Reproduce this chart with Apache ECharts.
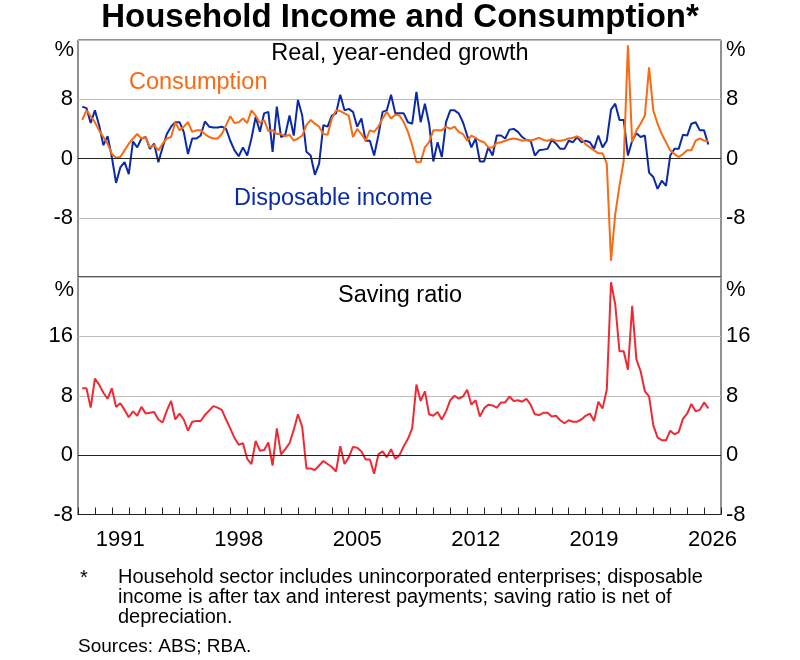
<!DOCTYPE html>
<html><head><meta charset="utf-8">
<script src="https://cdn.jsdelivr.net/npm/echarts@6/dist/echarts.min.js"></script>
<style>html,body{margin:0;padding:0;background:#fff}#c{width:800px;height:660px}</style>
</head><body><div id="c"></div>
<script>
// ---- data ----
const firstQuarter = 1989.25;   // plotted position of first quarterly observation
const quarterStep = 0.25;
const yearCategories = ['1989','1990','1991','1992','1993','1994','1995','1996','1997','1998',
  '1999','2000','2001','2002','2003','2004','2005','2006','2007','2008',
  '2009','2010','2011','2012','2013','2014','2015','2016','2017','2018',
  '2019','2020','2021','2022','2023','2024','2025','2026'];
const labelYears = ['1991','1998','2005','2012','2019','2026'];
const growthTicks = [-16, 16, 8];   // min, max, interval (top panel)
const savingTicks = [-8, 24, 8];    // min, max, interval (bottom panel)

const income = [
  7.0, 6.8, 4.8, 6.5, 4.5, 1.8, 3.0, 0.2, -3.3, -1.2,
  -0.5, -2.1, 2.3, 1.5, 2.7, 2.9, 1.3, 2.0, -0.5, 1.5,
  3.3, 4.3, 4.9, 4.9, 3.6, 0.6, 2.7, 2.7, 3.1, 5.0,
  4.3, 4.2, 4.2, 4.3, 4.0, 2.4, 1.1, 0.3, 1.5, 0.4,
  2.7, 5.6, 3.6, 6.1, 6.3, 0.9, 7.0, 2.9, 3.2, 5.8,
  3.1, 7.9, 5.8, 0.9, 0.4, -2.2, -0.7, 4.5, 4.3, 5.8,
  6.1, 8.6, 6.5, 6.7, 6.3, 4.3, 5.4, 2.4, 2.4, 0.4,
  3.1, 6.3, 6.5, 8.6, 6.1, 6.1, 6.1, 4.9, 4.7, 9.0,
  4.9, 7.4, 4.7, -0.4, 2.2, 0.2, 4.9, 6.5, 6.5, 6.1,
  4.9, 3.1, 1.5, 2.7, -0.4, -0.4, 1.5, 0.4, 3.1, 3.1,
  2.7, 3.9, 4.0, 3.6, 2.9, 2.5, 2.4, 0.4, 1.1, 1.2,
  1.3, 2.5, 2.0, 1.3, 1.3, 2.4, 2.2, 2.9, 2.2, 2.4,
  2.2, 1.3, 3.1, 1.5, 2.4, 6.6, 7.4, 5.2, 5.2, 0.4,
  2.4, 3.4, 2.9, 3.1, -1.9, -2.5, -4.1, -3.0, -3.7, 0.4,
  1.3, 1.3, 3.2, 3.1, 4.7, 4.9, 3.8, 3.8, 1.9
];
const consumption = [
  5.2, 6.5, 5.7, 4.9, 3.8, 2.9, 2.0, 0.6, 0.1, 0.2,
  1.1, 2.0, 2.7, 3.3, 2.7, 2.9, 1.5, 1.8, 1.1, 2.0,
  2.7, 2.9, 4.9, 3.8, 4.3, 4.9, 3.6, 3.8, 3.8, 3.3,
  2.9, 2.7, 2.7, 3.3, 4.5, 5.7, 4.8, 4.9, 5.4, 4.8,
  6.5, 5.8, 4.8, 5.2, 3.7, 3.8, 3.3, 3.3, 3.0, 3.2,
  2.4, 2.7, 3.1, 4.5, 5.2, 4.7, 4.3, 3.3, 3.2, 5.4,
  6.5, 6.4, 6.1, 5.8, 2.9, 4.0, 3.3, 2.4, 3.8, 3.6,
  4.3, 5.4, 6.3, 5.4, 5.9, 5.8, 4.9, 3.6, 1.8, -0.5,
  -0.5, 1.5, 2.2, 3.8, 3.8, 3.8, 4.3, 4.0, 4.3, 3.6,
  3.3, 2.4, 3.1, 2.8, 2.4, 2.2, 1.5, 1.5, 2.1, 2.2,
  2.4, 2.6, 2.7, 2.6, 2.4, 2.5, 2.4, 2.6, 2.8, 2.5,
  2.4, 2.6, 2.4, 2.4, 2.5, 2.7, 2.8, 3.0, 2.7, 1.9,
  1.5, 1.1, 0.7, 0.7, -0.7, -13.8, -7.5, -3.7, -0.3, 15.3,
  2.2, 3.8, 4.7, 5.8, 12.3, 6.5, 4.7, 3.3, 2.2, 1.1,
  0.6, 0.2, 0.6, 1.1, 1.1, 2.4, 2.7, 2.4, 2.4
];
const saving = [
  9.0, 9.0, 6.4, 10.3, 9.5, 8.4, 7.6, 9.0, 6.5, 7.0,
  6.1, 5.1, 5.9, 5.3, 6.5, 5.6, 5.7, 5.8, 4.8, 4.4,
  6.0, 7.3, 4.8, 5.6, 4.8, 3.3, 4.5, 4.6, 4.6, 5.4,
  6.0, 6.6, 6.4, 6.1, 4.8, 3.6, 2.3, 1.4, 1.6, -0.5,
  -1.2, 1.9, 0.6, 0.7, 1.7, -1.4, 3.6, 0.1, 0.8, 1.6,
  3.4, 5.5, 3.8, -1.8, -1.8, -2.0, -1.4, -0.8, -1.2, -1.6,
  -2.2, 1.2, -1.2, -0.3, 1.1, 1.0, 0.5, -0.6, -0.6, -2.5,
  0.1, 0.5, -0.3, 0.8, -0.5, 0.0, 1.2, 2.2, 3.6, 9.5,
  7.3, 8.6, 5.5, 5.3, 5.8, 4.8, 5.9, 7.4, 8.0, 7.6,
  7.9, 8.8, 6.8, 7.4, 5.2, 6.3, 6.8, 6.7, 6.4, 7.1,
  7.1, 7.9, 7.3, 7.4, 7.2, 7.6, 6.8, 5.5, 5.4, 5.7,
  5.7, 5.2, 5.3, 4.7, 4.3, 4.7, 4.5, 4.5, 4.8, 5.3,
  5.6, 4.6, 7.2, 6.3, 8.8, 23.3, 20.3, 14.0, 14.0, 11.5,
  20.1, 12.9, 11.3, 8.6, 7.9, 4.0, 2.4, 2.0, 2.0, 3.3,
  2.8, 3.1, 4.9, 5.6, 6.9, 5.9, 6.1, 7.1, 6.3
];

// ---- styling ----
const FONT = '"Liberation Sans", Arial, sans-serif';
const BLUE = '#0B2AA8', ORANGE = '#F96A12', RED = '#EE2A34';
const GRIDC = '#BDBDBD', DARK = '#222';

const toPairs = arr => arr.map((v, i) => [firstQuarter + i * quarterStep, v]);
const xMin = +yearCategories[0], xMax = +yearCategories[yearCategories.length - 1] + 1;

function yAx(grid, pos, ticks, nameGap) {
  const [mn, mx, iv] = ticks;
  return {
    type: 'value', gridIndex: grid, position: pos, min: mn, max: mx, interval: iv,
    name: '%', nameLocation: 'end', nameGap: nameGap,
    nameTextStyle: { fontFamily: FONT, fontSize: 22, color: '#000',
      align: pos === 'left' ? 'right' : 'left', verticalAlign: 'middle',
      padding: pos === 'left' ? [0, 4, 0, 0] : [0, 0, 0, 5] },
    axisLine: { show: false }, axisTick: { show: false },
    axisLabel: { fontFamily: FONT, fontSize: 22, color: '#000', margin: 5,
      formatter: v => (v === mx || (v === mn && mn === -16)) ? '' : String(v) },
    splitLine: { show: pos === 'left', lineStyle: { color: GRIDC, width: 1 } }
  };
}

const chart = echarts.init(document.getElementById('c'), null, { renderer: 'canvas' });
chart.setOption({
  backgroundColor: '#fff',
  animation: false,
  title: {
    text: 'Household Income and Consumption*', left: 'center', top: 1, padding: 0,
    textStyle: { fontFamily: FONT, fontSize: 33, fontWeight: 'bold', color: '#000' }
  },
  grid: [
    { left: 78, right: 79, top: 40, height: 237, show: true, borderColor: DARK, borderWidth: 1, outerBoundsMode: 'none' },
    { left: 78, right: 79, top: 277, height: 237.5, show: true, borderColor: DARK, borderWidth: 1, outerBoundsMode: 'none' }
  ],
  xAxis: [
    { type: 'value', gridIndex: 0, min: xMin, max: xMax, show: false },
    { type: 'value', gridIndex: 1, min: xMin, max: xMax, show: false },
    { type: 'category', gridIndex: 1, data: yearCategories, boundaryGap: true, position: 'bottom',
      axisLine: { show: true, onZero: false, lineStyle: { color: DARK, width: 1 } },
      axisTick: { show: true, inside: true, length: 7, interval: 0, lineStyle: { color: DARK } },
      axisLabel: { fontFamily: FONT, fontSize: 22, color: '#000', margin: 14,
        interval: (i, v) => labelYears.indexOf(v) >= 0 },
      splitLine: { show: false } }
  ],
  yAxis: [
    yAx(0, 'left', growthTicks, -10),
    yAx(0, 'right', growthTicks, -10),
    yAx(1, 'left', savingTicks, -13),
    yAx(1, 'right', savingTicks, -13)
  ],
  graphic: [
    { type: 'text', x: 400, y: 54, style: { text: 'Real, year-ended growth', fontFamily: FONT, fontSize: 23.5, fill: '#000', align: 'center', verticalAlign: 'middle' } },
    { type: 'text', x: 129, y: 83, style: { text: 'Consumption', fontFamily: FONT, fontSize: 23.5, fill: ORANGE, align: 'left', verticalAlign: 'middle' } },
    { type: 'text', x: 234, y: 199, style: { text: 'Disposable income', fontFamily: FONT, fontSize: 23.5, fill: BLUE, align: 'left', verticalAlign: 'middle' } },
    { type: 'text', x: 400, y: 296, style: { text: 'Saving ratio', fontFamily: FONT, fontSize: 23.5, fill: '#000', align: 'center', verticalAlign: 'middle' } },
    { type: 'text', x: 80, y: 568, style: { text: '*', fontFamily: FONT, fontSize: 20, fill: '#000', align: 'left', verticalAlign: 'top' } },
    { type: 'text', x: 118, y: 567, style: { text: 'Household sector includes unincorporated enterprises; disposable\nincome is after tax and interest payments; saving ratio is net of\ndepreciation.', fontFamily: FONT, fontSize: 20, lineHeight: 20, fill: '#000', align: 'left', verticalAlign: 'top' } },
    { type: 'text', x: 78, y: 637, style: { text: 'Sources: ABS; RBA.', fontFamily: FONT, fontSize: 19, fill: '#000', align: 'left', verticalAlign: 'top' } }
  ],
  series: [
    { type: 'line', xAxisIndex: 0, yAxisIndex: 0, data: [], silent: true, z: 1,
      markLine: { silent: true, symbol: 'none', label: { show: false }, animation: false,
        lineStyle: { color: DARK, width: 1, type: 'solid' }, data: [{ yAxis: 0 }] } },
    { type: 'line', xAxisIndex: 1, yAxisIndex: 2, data: [], silent: true, z: 1,
      markLine: { silent: true, symbol: 'none', label: { show: false }, animation: false,
        lineStyle: { color: DARK, width: 1, type: 'solid' }, data: [{ yAxis: 0 }] } },
    { name: 'Disposable income', type: 'line', xAxisIndex: 0, yAxisIndex: 0, data: toPairs(income),
      showSymbol: false, z: 3, lineStyle: { color: BLUE, width: 2 }, itemStyle: { color: BLUE } },
    { name: 'Consumption', type: 'line', xAxisIndex: 0, yAxisIndex: 0, data: toPairs(consumption),
      showSymbol: false, z: 4, lineStyle: { color: ORANGE, width: 2 }, itemStyle: { color: ORANGE } },
    { name: 'Saving ratio', type: 'line', xAxisIndex: 1, yAxisIndex: 2, data: toPairs(saving),
      showSymbol: false, z: 3, lineStyle: { color: RED, width: 2 }, itemStyle: { color: RED } }
  ]
});
</script>
</body></html>
